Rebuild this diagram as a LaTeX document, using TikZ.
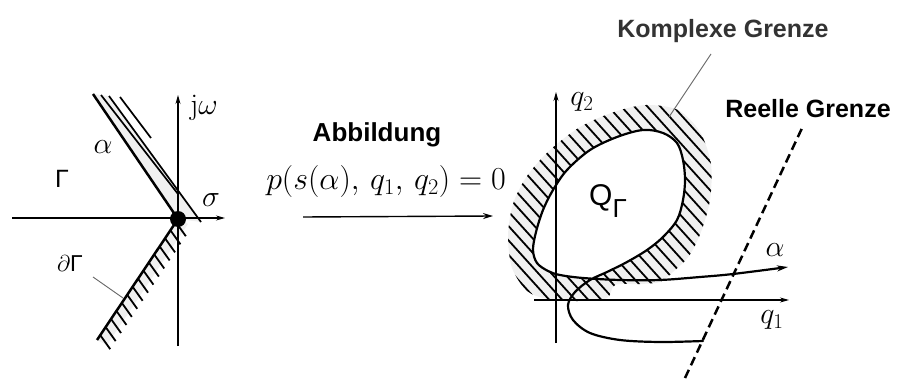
\RequirePackage{fix-cm}
\documentclass[tikz,border=0pt]{standalone}
\usepackage{fontspec}
\newfontfamily\lsans{Liberation Sans}
\usetikzlibrary{arrows.meta,calc}
\begin{document}
\begin{tikzpicture}[x=1pt,y=-1pt,
  axis/.style={line width=1.1pt,-{Stealth[length=9pt,width=5pt]}},
  curve/.style={line width=2.2pt,line join=round,line cap=round},
  hatch/.style={line width=1.8pt},
  thinlead/.style={line width=0.9pt,black!60},
  lbl/.style={inner sep=0pt},
  speck/.style={black!6},
]
\useasboundingbox (0,0) rectangle (899,379);

% ---------------- left: s-plane ----------------
\coordinate (O) at (178,219);
\coordinate (E) at (97,340);
\coordinate (A1) at (93,94);
% light shading
\fill[speck] (A1) -- (108,96) -- (201,222) -- (O) -- cycle;
\fill[speck] (O) -- (E) -- ($(E)+(10,5)$) -- ($(O)+(10,5)$) -- cycle;
% axes
\coordinate (hL) at (12,218); \coordinate (hR) at (225,218);
\coordinate (vB) at (178,346); \coordinate (vT) at (178,95);
\draw[axis] (hL) -- (hR);
\draw[axis] (vB) -- (vT);
% alpha wedge
\draw[line width=2.5pt] (A1) -- (O);
\coordinate (B1) at (101,95); \coordinate (B2) at (178,194);
\draw[line width=1.7pt] (B1) -- (B2);
\coordinate (C1) at (109,96); \coordinate (C2) at (201,222);
\draw[line width=1.7pt] (C1) -- (C2);
\coordinate (D1) at (120,97); \coordinate (D2) at (151,138);
\draw[line width=1.7pt] (D1) -- (D2);
% boundary ray with hatching
\draw[line width=2.5pt] (O) -- (E);
\foreach \i [evaluate=\i as \t using (\i+0.4)/15] in {0,...,14}
  \draw[hatch] ($(O)!\t!(E)$) -- ++(10,14);
\fill (O) circle (8pt);
% labels
\node[lbl] (jw) at (204,108) {\fontsize{30}{34}\selectfont $\mathrm{j}\omega$};
\node[lbl] (sig) at (211,200) {\fontsize{30}{34}\selectfont $\sigma$};
\node[lbl] (alL) at (103,147) {\fontsize{30}{34}\selectfont $\alpha$};
\node[lbl] (Gam) at (62,179) {\lsans\fontsize{25}{29}\selectfont Γ};
\node[lbl] (dG) at (70,264) {\fontsize{23}{27}\selectfont $\partial$\lsans Γ};
\coordinate (dGl1) at (93,277); \coordinate (dGl2) at (123,298);
\draw[thinlead] (dGl1) -- (dGl2);

% ---------------- middle ----------------
\node[lbl,anchor=base] (abb) at (377,142) {\lsans\bfseries\fontsize{26}{30}\selectfont Abbildung};
\node[lbl,anchor=base] (eq) at (386,190) {\fontsize{32}{36}\selectfont $p(s(\alpha),\,q_1,\,q_2)=0$};
\coordinate (m1) at (303,217); \coordinate (m2) at (493,216);
\draw[line width=1.4pt,-{Stealth[length=10pt,width=6pt]}] (m1) -- (m2);

% ---------------- right: parameter plane ----------------
% hatched band
\begin{scope}[even odd rule]
\clip
  plot[smooth cycle,tension=0.5] coordinates {(548,299) (527,291) (512,268) (508,236) (513,204) (527,176) (550,150) (580,127) (614,112) (646,105) (678,110) (700,132) (711,164) (710,200) (701,232) (689,256) (673,272) (660,282) (640,284) (615,285) (607,298) (580,301)}
  plot[smooth cycle,tension=0.55] coordinates {(590,280) (607,272) (627,262) (647,250) (663,237) (677,220) (683,200) (685,180) (683,160) (677,143) (663,133) (643,130) (617,137) (590,150) (567,170) (553,190) (543,210) (536,232) (533,250) (537,263) (548,271) (560,275) (575,277)};
\fill[speck] (500,90) rectangle (720,305);
\foreach \c in {200,213,...,660}
  \draw[hatch] (\c,0) -- ++(380,420);
\end{scope}
% axes
\coordinate (q2B) at (556,343); \coordinate (q2T) at (556,92);
\coordinate (q1L) at (534,300); \coordinate (q1R) at (789,300);
\draw[axis] (q2B) -- (q2T);
\draw[axis] (q1L) -- (q1R);
% root locus curve
\draw[curve,-{Stealth[length=11pt,width=6pt]}] plot[smooth,tension=0.55] coordinates {(703,341) (660,342) (620,340) (590,333) (573,320) (568,305) (575,292) (590,280) (607,272) (627,262) (647,250) (663,237) (677,220) (683,200) (685,180) (683,160) (677,143) (663,133) (643,130) (617,137) (590,150) (567,170) (553,190) (543,210) (536,232) (533,250) (537,263) (548,271) (560,275) (583,278) (620,280) (660,280) (700,277) (733,274) (788,267)};
% real boundary
\coordinate (r1) at (685,378); \coordinate (r2) at (803,126);
\draw[line width=2.5pt,dash pattern=on 9pt off 5pt] (r1) -- (r2);
% labels
\node[lbl] (q2) at (582,102) {\fontsize{30}{34}\selectfont $q_2$};
\node[lbl] (q1) at (772,320) {\fontsize{30}{34}\selectfont $q_1$};
\node[lbl] (alR) at (775,250) {\fontsize{30}{34}\selectfont $\alpha$};
\node[lbl] (Q) at (608,201) {\lsans\fontsize{30}{34}\selectfont Q\raisebox{-12pt}{\fontsize{26}{30}\selectfont Γ}};
\node[lbl,anchor=base] (kg) at (723,38) {\lsans\bfseries\fontsize{25}{30}\selectfont\color{black!80} Komplexe Grenze};
\node[lbl,anchor=base] (rg) at (808,118) {\lsans\bfseries\fontsize{25}{30}\selectfont Reelle Grenze};
\coordinate (kl1) at (711,54); \coordinate (kl2) at (669,117);
\draw[thinlead] (kl1) -- (kl2);
\end{tikzpicture}
\end{document}
